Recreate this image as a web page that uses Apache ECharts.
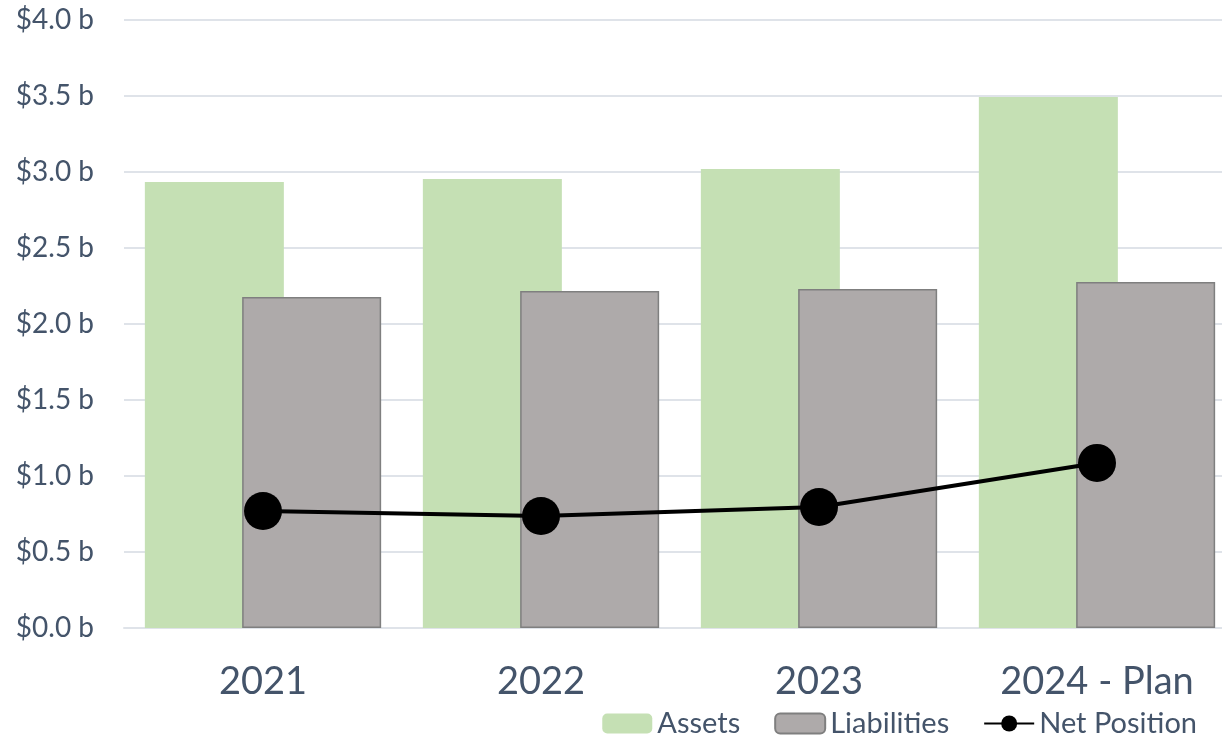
<!DOCTYPE html>
<html>
<head>
<meta charset="utf-8">
<script src="https://cdn.jsdelivr.net/npm/echarts@6/dist/echarts.min.js"></script>
<style>
  html, body { margin: 0; padding: 0; background: #fff; overflow: hidden; }
  #main { width: 1236px; height: 738px; }
</style>
</head>
<body>
<div id="main"></div>
<script>
// values in billions of dollars
var years = ['2021', '2022', '2023', '2024 - Plan'];
var assets = [2.934, 2.954, 3.02, 3.493];
var liabilities = [2.178, 2.217, 2.23, 2.276];
var netPosition = [0.77, 0.737, 0.796, 1.086];

var textColor = '#44546a';
var font = 'Lato, "Open Sans", sans-serif';

// the plot runs a little past the right edge of the picture, so the div is wider than the window
var myChart = echarts.init(document.getElementById('main'));
var option = {
  animation: false,
  textStyle: { fontFamily: font },
  grid: { left: 124, top: 20, right: 0, bottom: 110 },
  legend: {
    right: 34,
    top: 704,
    itemWidth: 50,
    itemHeight: 20,
    itemGap: 34,
    textStyle: { color: textColor, fontSize: 29, fontFamily: font },
    data: ['Assets', 'Liabilities', 'Net Position']
  },
  xAxis: {
    type: 'category',
    data: years,
    axisTick: { show: false },
    axisLine: { lineStyle: { color: '#dfe3e9', width: 2 } },
    axisLabel: { color: textColor, fontSize: 38, margin: 35, fontFamily: font }
  },
  yAxis: {
    type: 'value',
    min: 0,
    max: 4,
    interval: 0.5,
    axisLine: { show: false },
    axisTick: { show: false },
    splitLine: { lineStyle: { color: '#dfe3e9', width: 2 } },
    axisLabel: {
      color: textColor,
      fontSize: 28,
      margin: 30,
      fontFamily: font,
      formatter: function (v) { return '$' + v.toFixed(1) + ' b'; }
    }
  },
  series: [
    {
      name: 'Assets',
      type: 'bar',
      data: assets,
      barWidth: 139,
      barGap: '-30%',
      itemStyle: { color: '#c5e0b4' }
    },
    {
      name: 'Liabilities',
      type: 'bar',
      data: liabilities,
      barWidth: 139,
      itemStyle: { color: '#aeaaaa', borderColor: '#7f7f7f', borderWidth: 1.5 }
    },
    {
      name: 'Net Position',
      type: 'line',
      data: netPosition,
      z: 5,
      symbol: 'circle',
      symbolSize: 38,
      lineStyle: { color: '#000', width: 4 },
      itemStyle: { color: '#000' }
    }
  ]
};
myChart.setOption(option);
</script>
</body>
</html>
